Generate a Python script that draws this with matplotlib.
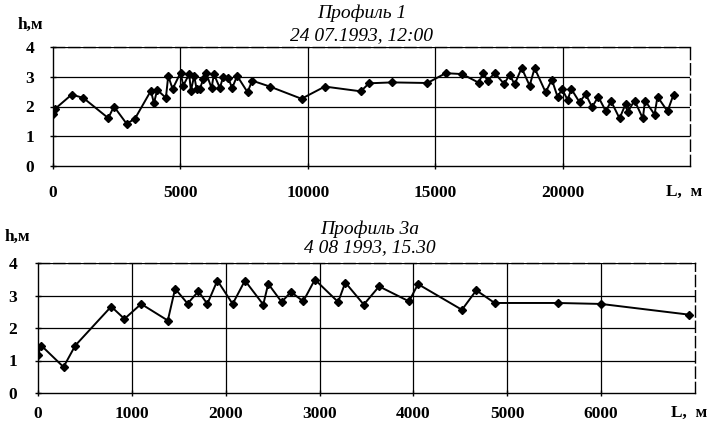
import matplotlib.pyplot as plt

# --- Профиль 1, 24.07.1993 ---
L1 = [0, 80, 733, 1188, 2169, 2392, 2890, 3216, 3843, 3961, 4090, 4431, 4522,
      4694, 5008, 5110, 5345, 5412, 5541, 5635, 5765, 5894, 6000, 6224, 6314,
      6549, 6678, 6875, 7031, 7227, 7635, 7816, 8510, 9753, 10667, 12078,
      12404, 13306, 14694, 15412, 16059, 16706, 16875, 17059, 17333, 17706,
      17922, 18118, 18392, 18706, 18902, 19333, 19580, 19804, 19980, 20196,
      20341, 20667, 20902, 21157, 21400, 21698, 21902, 22235, 22471, 22549,
      22824, 23149, 23235, 23608, 23725, 24118, 24353]
h1 = [1.75, 1.92, 2.40, 2.29, 1.61, 2.00, 1.42, 1.59, 2.53, 2.11, 2.56, 2.29, 3.03,
      2.59, 3.14, 2.70, 3.09, 2.53, 3.03, 2.59, 2.59, 2.92, 3.14, 2.62, 3.09,
      2.62, 3.00, 2.96, 2.62, 3.03, 2.48, 2.87, 2.67, 2.26, 2.67, 2.51,
      2.78, 2.81, 2.79, 3.12, 3.09, 2.80, 3.12, 2.87, 3.12, 2.76,
      3.07, 2.74, 3.30, 2.70, 3.29, 2.48, 2.90, 2.32, 2.59, 2.22,
      2.59, 2.14, 2.42, 1.98, 2.33, 1.84, 2.18, 1.60, 2.08, 1.81,
      2.20, 1.60, 2.20, 1.73, 2.33, 1.84, 2.40]

# --- Профиль 3а, 4.08.1993 ---
L2 = [0, 35, 272, 397, 780, 921, 1099, 1383, 1461, 1594, 1709, 1804, 1911,
      2074, 2205, 2400, 2453, 2596, 2695, 2826, 2950, 3198, 3274, 3471, 3634,
      3953, 4049, 4517, 4670, 4865, 5538, 6000, 6939]
h2 = [1.18, 1.46, 0.80, 1.46, 2.66, 2.28, 2.74, 2.23, 3.21, 2.75, 3.13, 2.74, 3.46,
      2.74, 3.46, 2.72, 3.36, 2.80, 3.11, 2.82, 3.49, 2.80, 3.40, 2.72, 3.28,
      2.82, 3.35, 2.56, 3.16, 2.77, 2.77, 2.74, 2.41]

ticks1 = [0, 5000, 10000, 15000, 20000]
ticks2 = [0, 1000, 2000, 3000, 4000, 5000, 6000]
yticks = [0, 1, 2, 3, 4]

W, H = 715, 429
fig = plt.figure(figsize=(W / 100, H / 100), dpi=100)
plt.rcParams['font.family'] = ['Liberation Serif', 'DejaVu Serif']
FS = 12.5


def make_panel(box, L, h, xmax, xticks, title, date, xpad, ypad, hpos, tpos):
    left, top, right, bottom = box
    ax = fig.add_axes([left / W, 1 - bottom / H, (right - left) / W, (bottom - top) / H])
    ax.plot(L, h, color='black', lw=1.4, marker='D', ms=4.2, zorder=3)
    ax.set_xlim(0, xmax)
    ax.set_ylim(0, 4)
    ax.set_xticks(xticks)
    ax.set_yticks(yticks)
    ax.tick_params(direction='inout', length=5, width=1, colors='black',
                   labelsize=FS)
    ax.tick_params(axis='x', pad=xpad)
    ax.tick_params(axis='y', pad=ypad)
    for lab in ax.get_xticklabels() + ax.get_yticklabels():
        lab.set_fontweight('bold')
    for y in yticks[1:]:
        ax.axhline(y, color='black', lw=0.9, zorder=1)
    for x in xticks[1:]:
        ax.axvline(x, color='black', lw=0.9, zorder=1)
    ax.spines['top'].set_linestyle((0, (8, 3)))
    ax.spines['right'].set_linestyle((0, (8, 3)))
    for s in ax.spines.values():
        s.set_linewidth(1.0)
    # axis units
    ax.annotate('L,  м', xy=(xmax, 0), xycoords='data', xytext=(-4, -xpad - 1.8),
                textcoords='offset points', ha='center', va='top',
                fontsize=FS, fontweight='bold')
    fig.text(hpos[0] / W, 1 - hpos[1] / H, 'h,м', fontsize=FS, fontweight='bold',
             ha='left', va='center')
    fig.text(tpos[0] / W, 1 - tpos[1] / H, title, fontsize=14, style='italic',
             ha='center', va='center')
    fig.text(tpos[0] / W, 1 - tpos[2] / H, date, fontsize=14, style='italic',
             ha='center', va='center')
    return ax


make_panel((53, 47, 690, 166), L1, h1, 25000, ticks1,
           'Профиль 1', '24 07.1993, 12:00', 11, 11,
           (18, 25), (362, 13, 36))
make_panel((38, 263, 695, 393), L2, h2, 7000, ticks2,
           'Профиль 3а', '4 08 1993, 15.30', 7, 12.5,
           (5, 237), (370, 229, 248))

fig.savefig('out.png', dpi=100, facecolor='white')
